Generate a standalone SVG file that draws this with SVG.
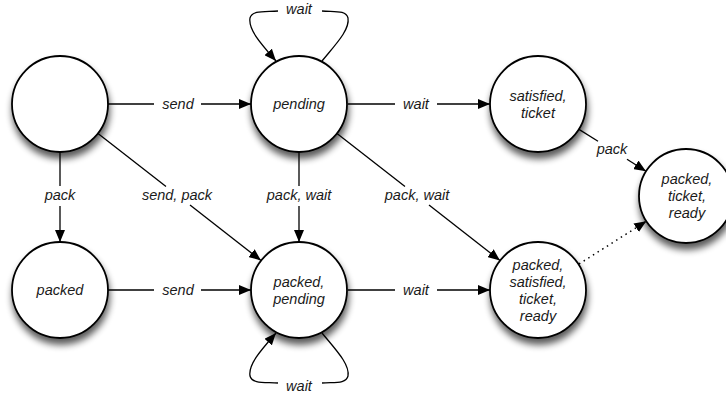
<svg xmlns="http://www.w3.org/2000/svg" width="726" height="395" viewBox="0 0 726 395">
<defs>
<filter id="sh" x="-30%" y="-30%" width="160%" height="170%">
<feGaussianBlur in="SourceAlpha" stdDeviation="3.5"/>
<feOffset dx="1" dy="6" result="b"/>
<feComponentTransfer><feFuncA type="linear" slope="0.65"/></feComponentTransfer>
<feMerge><feMergeNode/><feMergeNode in="SourceGraphic"/></feMerge>
</filter>
<marker id="arr" viewBox="0 0 12 10" refX="12" refY="5" markerWidth="12" markerHeight="10" markerUnits="userSpaceOnUse" orient="auto">
<path d="M0,0 L12,5 L0,10 Z" fill="#000"/>
</marker>
</defs>
<style>
.n{fill:#fff;stroke:#000;stroke-width:1.8;filter:url(#sh)}
.t{font-family:"Liberation Sans",Arial,sans-serif;font-style:italic;font-size:14.5px;fill:#1a1a1a;text-anchor:middle}
.e{fill:none;stroke:#000;stroke-width:1.3}
.d{fill:none;stroke:#000;stroke-width:1.5;stroke-dasharray:1.5,4}
</style>
<rect width="726" height="395" fill="#fff"/>
<g id="connectors">
<line class="e" x1="108" y1="104" x2="154" y2="104"/>
<line class="e" x1="201" y1="104" x2="251" y2="104" marker-end="url(#arr)"/>
<text class="t" x="178" y="109">send</text>
<line class="e" x1="348" y1="104" x2="395" y2="104"/>
<line class="e" x1="437" y1="104" x2="490" y2="104" marker-end="url(#arr)"/>
<text class="t" x="416" y="109">wait</text>
<line class="e" x1="108" y1="290" x2="154" y2="290"/>
<line class="e" x1="201" y1="290" x2="251" y2="290" marker-end="url(#arr)"/>
<text class="t" x="178" y="295">send</text>
<line class="e" x1="348" y1="290" x2="395" y2="290"/>
<line class="e" x1="437" y1="290" x2="490" y2="290" marker-end="url(#arr)"/>
<text class="t" x="416" y="295">wait</text>
<line class="e" x1="60" y1="152" x2="60" y2="186"/>
<line class="e" x1="60" y1="206" x2="60" y2="242" marker-end="url(#arr)"/>
<text class="t" x="60" y="200">pack</text>
<line class="e" x1="299" y1="152" x2="299" y2="186"/>
<line class="e" x1="299" y1="206" x2="299" y2="242" marker-end="url(#arr)"/>
<text class="t" x="299" y="200">pack, wait</text>
<line class="e" x1="98" y1="133.5" x2="166" y2="186.5"/>
<line class="e" x1="190" y1="205" x2="261" y2="260.5" marker-end="url(#arr)"/>
<text class="t" x="177" y="200">send, pack</text>
<line class="e" x1="337" y1="133.5" x2="405" y2="186.5"/>
<line class="e" x1="429" y1="205" x2="500" y2="260.5" marker-end="url(#arr)"/>
<text class="t" x="417" y="200">pack, wait</text>
<line class="e" x1="579" y1="129.4" x2="598" y2="141.3"/>
<line class="e" x1="627" y1="159.3" x2="646" y2="171.2" marker-end="url(#arr)"/>
<text class="t" x="612" y="154">pack</text>
<line class="d" x1="579" y1="264" x2="646.3" y2="221.3" marker-end="url(#arr)"/>
<path class="e" d="M322,61 C335,45 350,30 348,18 C346,10 335,12 322,11"/>
<path class="e" d="M278,11 C265,12 252,10 250,18 C248,30 262,45 276,61" marker-end="url(#arr)"/>
<text class="t" x="299" y="14">wait</text>
<path class="e" d="M322,333 C335,349 350,364 348,376 C346,384 335,382 322,383"/>
<path class="e" d="M278,383 C265,382 252,384 250,376 C248,364 262,349 276,333" marker-end="url(#arr)"/>
<text class="t" x="299" y="391">wait</text>
</g>
<g id="start"><circle class="n" cx="60" cy="104" r="48"/></g>
<g id="pending"><circle class="n" cx="299" cy="104" r="48"/><text class="t" x="299" y="109">pending</text></g>
<g id="satisfied-ticket"><circle class="n" cx="538" cy="104" r="48"/><text class="t" x="538" y="101">satisfied,</text><text class="t" x="538" y="118">ticket</text></g>
<g id="packed"><circle class="n" cx="60" cy="290" r="48"/><text class="t" x="60" y="295">packed</text></g>
<g id="packed-pending"><circle class="n" cx="299" cy="290" r="48"/><text class="t" x="299" y="287">packed,</text><text class="t" x="299" y="304">pending</text></g>
<g id="packed-satisfied-ticket-ready"><circle class="n" cx="538" cy="290" r="48"/><text class="t" x="538" y="270">packed,</text><text class="t" x="538" y="287">satisfied,</text><text class="t" x="538" y="304">ticket,</text><text class="t" x="538" y="321">ready</text></g>
<g id="packed-ticket-ready"><circle class="n" cx="686" cy="196" r="47"/><text class="t" x="687" y="184">packed,</text><text class="t" x="687" y="201">ticket,</text><text class="t" x="687" y="218">ready</text></g>
</svg>
